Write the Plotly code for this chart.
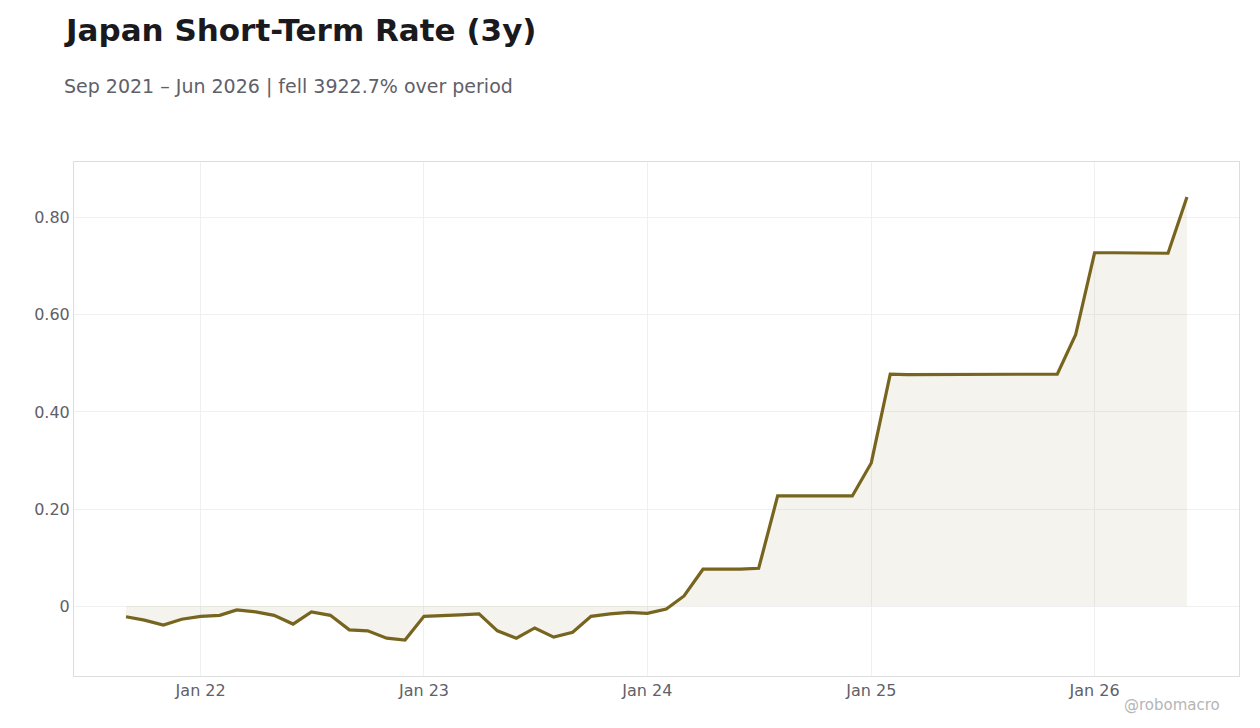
import plotly.graph_objects as go
import pandas as pd

dates = pd.date_range("2021-09-01", "2026-06-01", freq="MS")
rates = [
    -0.022, -0.029, -0.039, -0.027, -0.021, -0.019, -0.008, -0.012, -0.019, -0.037,
    -0.012, -0.019, -0.049, -0.051, -0.066, -0.070, -0.021, -0.020, -0.018, -0.016,
    -0.051, -0.066, -0.045, -0.064, -0.054, -0.021, -0.016, -0.013, -0.015, -0.006,
    0.021, 0.076, 0.076, 0.076, 0.078, 0.227, 0.227, 0.227, 0.227, 0.227,
    0.295, 0.478, 0.477, 0.477, 0.477, 0.477, 0.478, 0.477, 0.477, 0.477,
    0.478, 0.559, 0.728, 0.728, 0.728, 0.727, 0.727, 0.843,
]
tick_vals = [0, 0.2, 0.4, 0.6, 0.8]
tick_text = ["0", "0.20", "0.40", "0.60", "0.80"]

line_color = "#77651f"
grey = "#5f6068"

W, H = 1244, 712
L, R, T, B = 66, 13, 154, 44

fig = go.Figure(go.Scatter(
    x=dates, y=rates, mode="lines",
    line=dict(color=line_color, width=3.2),
    fill="tozeroy", fillcolor="rgba(119,101,31,0.08)",
))

fig.update_layout(
    width=W, height=H,
    margin=dict(l=L, r=R, t=T, b=B),
    plot_bgcolor="white", paper_bgcolor="white",
    font=dict(family="DejaVu Sans", color=grey, size=16),
    showlegend=False,
    xaxis=dict(
        range=["2021-06-08", "2026-08-25"],
        tickvals=pd.to_datetime(["2022-01-01", "2023-01-01", "2024-01-01", "2025-01-01", "2026-01-01"]),
        ticktext=["Jan 22", "Jan 23", "Jan 24", "Jan 25", "Jan 26"],
        showgrid=True, gridcolor="#f0f0f0", zeroline=False,
        showline=True, linecolor="#dddddd", mirror=True, ticks="",
    ),
    yaxis=dict(
        range=[-0.144, 0.915], tickvals=tick_vals, ticktext=tick_text,
        showgrid=True, gridcolor="#f0f0f0", zeroline=False,
        showline=True, linecolor="#dddddd", mirror=True, ticks="",
    ),
    annotations=[
        dict(text="<b>Japan Short-Term Rate (3y)</b>", x=62, y=30,
             showarrow=False, font=dict(size=31, color="#1a1a1e")),
        dict(text="Sep 2021 – Jun 2026 | fell 3922.7% over period", x=62, y=86,
             showarrow=False, font=dict(size=19, color=grey)),
        dict(text="@robomacro", x=1222, y=705, showarrow=False,
             font=dict(size=15, color="#b5b5b5")),
    ],
)
# place text annotations in page pixel coordinates (figure origin at 8,8)
for a in fig.layout.annotations:
    px, py = a.x - 8, a.y - 8
    a.update(xref="paper", yref="paper",
             x=(px - L) / (W - L - R), y=1 - (py - T) / (H - T - B),
             xanchor="left" if px < 600 else "right", yanchor="middle")

fig.write_html("out.html")
